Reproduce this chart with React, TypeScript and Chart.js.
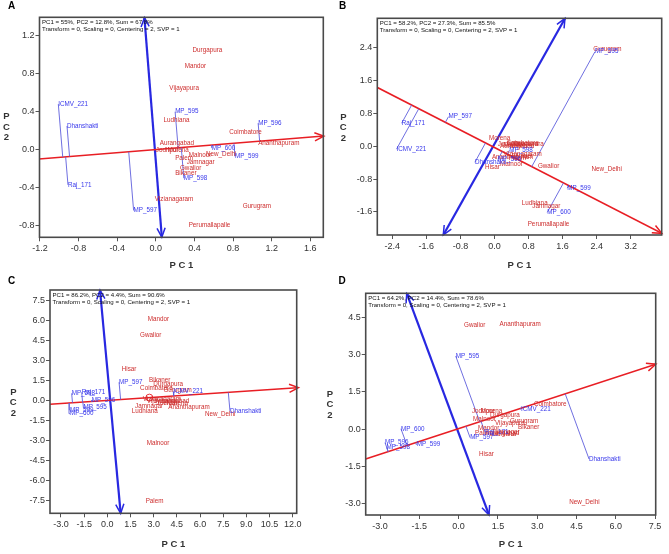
import React, { useEffect, useRef } from 'react';
import { Chart, registerables } from 'chart.js';

Chart.register(...registerables);

const FONT = '"Liberation Sans", Arial, Helvetica, sans-serif';
const INFO2 = 'Transform = 0, Scaling = 0, Centering = 2, SVP = 1';

// ---------------- Panel A ----------------
const aInfo = 'PC1 = 55%, PC2 = 12.8%, Sum = 67.8%';
const aTicksPC1 = [-1.2, -0.8, -0.4, 0, 0.4, 0.8, 1.2, 1.6];
const aTicksPC2 = [-0.8, -0.4, 0, 0.4, 0.8, 1.2];
const aGenotypes = ['ICMV_221', 'Dhanshakti', 'Raj_171', 'MP_597', 'MP_595', 'MP_596', 'MP_600', 'MP_599', 'MP_598'];
const aGenoPC1 = [-1.01, -0.92, -0.91, -0.23, 0.2, 1.06, 0.58, 0.82, 0.29];
const aGenoPC2 = [0.48, 0.25, -0.37, -0.64, 0.4, 0.28, 0.02, -0.07, -0.3];
const aEnvironments = ['Durgapura', 'Mandor', 'Vijayapura', 'Ludhiana', 'Coimbatore', 'Ananthapuram', 'Aurangabad', 'Jodhpur', 'Morena', 'Palem', 'Malnoor', 'New_Delhi', 'Jamnagar', 'Gwalior', 'Bikaner', 'Vizianagaram', 'Gurugram', 'Perumallapalle'];
const aEnvPC1 = [0.38, 0.3, 0.14, 0.08, 0.76, 1.06, 0.04, 0.0, 0.12, 0.2, 0.34, 0.52, 0.32, 0.25, 0.2, -0.01, 0.9, 0.34];
const aEnvPC2 = [1.05, 0.88, 0.65, 0.31, 0.18, 0.07, 0.07, -0.01, -0.01, -0.09, -0.06, -0.05, -0.13, -0.19, -0.25, -0.52, -0.6, -0.79];
const aRedPC1 = [-1.21, 1.74];
const aRedPC2 = [-0.098, 0.144];
const aBluePC1 = [-0.118, 0.062];
const aBluePC2 = [1.39, -0.92];

// ---------------- Panel B ----------------
const bInfo = 'PC1 = 58.2%, PC2 = 27.3%, Sum = 85.5%';
const bTicksPC1 = [-2.4, -1.6, -0.8, 0, 0.8, 1.6, 2.4, 3.2];
const bTicksPC2 = [-1.6, -0.8, 0, 0.8, 1.6, 2.4];
const bGenotypes = ['MP_595', 'MP_597', 'Raj_171', 'ICMV_221', 'MP_598', 'Dhanshakti', 'MP_596', 'MP_599', 'MP_600'];
const bGenoPC1 = [2.36, -1.08, -2.18, -2.3, 0.35, -0.46, 0.08, 1.71, 1.24];
const bGenoPC2 = [2.3, 0.72, 0.56, -0.07, -0.1, -0.39, -0.32, -1.02, -1.61];
const bEnvironments = ['Gurugram', 'Morena', 'Jodhpur', 'Durgapura', 'Mandor', 'Vijayapura', 'Aurangabad', 'Coimbatore', 'Ananthapuram', 'Bikaner', 'Vizianagaram', 'Palem', 'Hisar', 'Malnoor', 'Gwalior', 'New_Delhi', 'Ludhiana', 'Jamnagar', 'Perumallapalle'];
const bEnvPC1 = [2.32, -0.13, 0.08, 0.46, 0.21, 0.33, 0.13, 0.28, -0.06, 0.4, 0.21, 0.33, -0.22, 0.13, 1.02, 2.28, 0.64, 0.89, 0.78];
const bEnvPC2 = [2.37, 0.19, 0.055, 0.055, 0.02, 0.05, -0.01, 0.08, -0.26, -0.24, -0.19, -0.29, -0.5, -0.43, -0.48, -0.56, -1.39, -1.45, -1.89];
const bRedPC1 = [-2.76, 3.93];
const bRedPC2 = [1.434, -2.119];
const bBluePC1 = [1.656, -1.202];
const bBluePC2 = [3.11, -2.16];

// ---------------- Panel C ----------------
const cInfo = 'PC1 = 86.2%, PC2 = 4.4%, Sum = 90.6%';
const cTicksPC1 = [-3, -1.5, 0, 1.5, 3, 4.5, 6, 7.5, 9, 10.5, 12];
const cTicksPC2 = [-7.5, -6, -4.5, -3, -1.5, 0, 1.5, 3, 4.5, 6, 7.5];
const cGenotypes = ['MP_597', 'MP_598', 'Raj_171', 'MP_596', 'MP_595', 'MP_599', 'MP_600', 'ICMV_221', 'Dhanshakti'];
const cGenoPC1 = [0.76, -2.31, -1.66, -1.01, -1.55, -2.42, -2.42, 4.27, 7.94];
const cGenoPC2 = [1.35, 0.52, 0.6, 0.0, -0.55, -0.72, -1.0, 0.65, -0.8];
const cEnvironments = ['Mandor', 'Gwalior', 'Hisar', 'Bikaner', 'Durgapura', 'Coimbatore', 'Gurugram', 'Vizianagaram', 'Vijayapura', 'Aurangabad', 'Jodhpur', 'Morena', 'Jamnagar', 'Ananthapuram', 'Ludhiana', 'New_Delhi', 'Malnoor', 'Palem'];
const cEnvPC1 = [2.61, 2.12, 0.93, 2.7, 2.98, 2.12, 3.63, 2.29, 2.55, 3.09, 3.19, 3.84, 1.79, 3.95, 1.58, 6.32, 2.55, 2.48];
const cEnvPC2 = [6.08, 4.86, 2.32, 1.52, 1.22, 0.9, 0.77, 0.07, -0.1, -0.1, -0.22, -0.22, -0.47, -0.55, -0.8, -1.05, -3.22, -7.58];
const cRedPC1 = [-3.72, 12.37];
const cRedPC2 = [-0.3, 0.946];
const cBluePC1 = [-0.475, 0.863];
const cBluePC2 = [8.25, -8.45];
const cAecPC1 = [2.72];
const cAecPC2 = [0.2];

// ---------------- Panel D ----------------
const dInfo = 'PC1 = 64.2%, PC2 = 14.4%, Sum = 78.6%';
const dTicksPC1 = [-3, -1.5, 0, 1.5, 3, 4.5, 6, 7.5];
const dTicksPC2 = [-3, -1.5, 0, 1.5, 3, 4.5];
const dGenotypes = ['MP_595', 'ICMV_221', 'Dhanshakti', 'MP_600', 'MP_596', 'MP_598', 'MP_599', 'MP_597', 'Raj_171'];
const dGenoPC1 = [-0.11, 2.38, 4.98, -2.2, -2.81, -2.75, -1.6, 0.44, 1.01];
const dGenoPC2 = [2.95, 0.8, -1.21, 0.01, -0.55, -0.74, -0.62, -0.35, -0.13];
const dEnvironments = ['Gwalior', 'Ananthapuram', 'Coimbatore', 'Jodhpur', 'Morena', 'Durgapura', 'Malnoor', 'Vijayapura', 'Gurugram', 'Mandor', 'Bikaner', 'Palem', 'Aurangabad', 'Ludhiana', 'Jamnagar', 'Hisar', 'New_Delhi'];
const dEnvPC1 = [0.21, 1.56, 2.88, 0.51, 0.85, 1.2, 0.55, 1.39, 1.96, 0.74, 2.27, 0.63, 1.01, 1.2, 1.26, 0.78, 4.22];
const dEnvPC2 = [4.18, 4.22, 1.0, 0.73, 0.73, 0.57, 0.41, 0.25, 0.33, 0.04, 0.08, -0.16, -0.16, -0.2, -0.11, -1.01, -2.97];
const dRedPC1 = [-3.55, 7.53];
const dRedPC2 = [-1.21, 2.62];
const dBluePC1 = [-1.98, 1.16];
const dBluePC2 = [5.48, -3.47];

const RED = 'rgb(232,30,36)';
const ENV_RED = 'rgb(205,45,45)';
const BLUE = 'rgb(40,40,225)';
const GENO_BLUE = 'rgb(55,55,235)';
const PROJ = 'rgb(95,95,220)';

type Cfg = {
  letter: string;
  left: number; top: number; width: number; height: number;
  area: { left: number; top: number; right: number; bottom: number };
  xRange: [number, number]; yRange: [number, number];
  xTicks: number[]; yTicks: number[];
  genotypes: string[]; genoX: number[]; genoY: number[];
  envs: string[]; envX: number[]; envY: number[];
  redX: number[]; redY: number[]; blueX: number[]; blueY: number[];
  info: string;
  letterPos: [number, number];
  yTitlePos: [number, number];
  aecX?: number[]; aecY?: number[];
};

const panels: Cfg[] = [
  {
    letter: 'A', left: 0, top: 0, width: 335, height: 275,
    area: { left: 39.5, top: 17.3, right: 323.3, bottom: 237.3 },
    xRange: [-1.205, 1.735], yRange: [-0.922, 1.394],
    xTicks: aTicksPC1, yTicks: aTicksPC2,
    genotypes: aGenotypes, genoX: aGenoPC1, genoY: aGenoPC2,
    envs: aEnvironments, envX: aEnvPC1, envY: aEnvPC2,
    redX: aRedPC1, redY: aRedPC2, blueX: aBluePC1, blueY: aBluePC2,
    info: aInfo, letterPos: [11.7, 6.7], yTitlePos: [6.5, 116.7],
  },
  {
    letter: 'B', left: 335, top: 0, width: 334, height: 275,
    area: { left: 42.3, top: 18.3, right: 326.7, bottom: 235 },
    xRange: [-2.752, 3.928], yRange: [-2.16, 3.114],
    xTicks: bTicksPC1, yTicks: bTicksPC2,
    genotypes: bGenotypes, genoX: bGenoPC1, genoY: bGenoPC2,
    envs: bEnvironments, envX: bEnvPC1, envY: bEnvPC2,
    redX: bRedPC1, redY: bRedPC2, blueX: bBluePC1, blueY: bBluePC2,
    info: bInfo, letterPos: [7.5, 6], yTitlePos: [8.3, 117],
  },
  {
    letter: 'C', left: 0, top: 275, width: 320, height: 279,
    area: { left: 50, top: 15, right: 296.7, bottom: 238.3 },
    xRange: [-3.712, 12.26], yRange: [-8.45, 8.25],
    xTicks: cTicksPC1, yTicks: cTicksPC2,
    genotypes: cGenotypes, genoX: cGenoPC1, genoY: cGenoPC2,
    envs: cEnvironments, envX: cEnvPC1, envY: cEnvPC2,
    redX: cRedPC1, redY: cRedPC2, blueX: cBluePC1, blueY: cBluePC2,
    info: cInfo, letterPos: [11.7, 6.7], yTitlePos: [13.3, 117.3],
    aecX: cAecPC1, aecY: cAecPC2,
  },
  {
    letter: 'D', left: 320, top: 275, width: 349, height: 279,
    area: { left: 45.7, top: 18.3, right: 335.7, bottom: 240 },
    xRange: [-3.547, 7.525], yRange: [-3.471, 5.483],
    xTicks: dTicksPC1, yTicks: dTicksPC2,
    genotypes: dGenotypes, genoX: dGenoPC1, genoY: dGenoPC2,
    envs: dEnvironments, envX: dEnvPC1, envY: dEnvPC2,
    redX: dRedPC1, redY: dRedPC2, blueX: dBluePC1, blueY: dBluePC2,
    info: dInfo, letterPos: [22, 6.7], yTitlePos: [10, 119],
  },
];

const toPts = (xs: number[], ys: number[]) => xs.map((x, i) => ({ x, y: ys[i] }));

function footOnRed(g: { x: number; y: number }, sx: number, sy: number, ex: number, ey: number) {
  const dx = ex - sx;
  const dy = ey - sy;
  const t = ((g.x - sx) * dx + (g.y - sy) * dy) / (dx * dx + dy * dy);
  return { x: sx + t * dx, y: sy + t * dy };
}

function arrowHead(ctx: CanvasRenderingContext2D, tx: number, ty: number, fx: number, fy: number, color: string, len: number, lw: number) {
  const ang = Math.atan2(ty - fy, tx - fx);
  const spread = 0.42;
  ctx.save();
  ctx.strokeStyle = color;
  ctx.lineWidth = lw;
  ctx.beginPath();
  ctx.moveTo(tx - len * Math.cos(ang - spread), ty - len * Math.sin(ang - spread));
  ctx.lineTo(tx, ty);
  ctx.lineTo(tx - len * Math.cos(ang + spread), ty - len * Math.sin(ang + spread));
  ctx.stroke();
  ctx.restore();
}

function Panel({ cfg }: { cfg: Cfg }) {
  const ref = useRef<HTMLCanvasElement | null>(null);

  useEffect(() => {
    if (!ref.current) return;
    const genoPts = toPts(cfg.genoX, cfg.genoY);
    const envPts = toPts(cfg.envX, cfg.envY);
    const red = toPts(cfg.redX, cfg.redY);
    const blue = toPts(cfg.blueX, cfg.blueY);

    const projections = genoPts.map((g) => ({
      data: [g, footOnRed(g, red[0].x, red[0].y, red[1].x, red[1].y)],
      showLine: true,
      borderColor: PROJ,
      borderWidth: 0.9,
      pointRadius: 0,
    }));

    const datasets: any[] = [
      ...projections,
      {
        data: envPts, pointRadius: 0, showLine: false,
        pointLabels: cfg.envs, labelColor: ENV_RED,
      },
      {
        data: genoPts, pointRadius: 0, showLine: false,
        pointLabels: cfg.genotypes, labelColor: GENO_BLUE,
      },
      {
        data: red, showLine: true, borderColor: RED, borderWidth: 1.6, pointRadius: 0,
        arrow: 'end', arrowColor: RED,
      },
      {
        data: blue, showLine: true, borderColor: BLUE, borderWidth: 2.2, pointRadius: 0,
        arrow: 'both', arrowColor: BLUE,
      },
    ];
    if (cfg.aecX && cfg.aecY) {
      datasets.push({
        data: toPts(cfg.aecX, cfg.aecY), showLine: false, pointRadius: 3.5,
        pointBorderColor: RED, pointBackgroundColor: 'rgba(0,0,0,0)', pointBorderWidth: 0.9,
      });
    }

    const decor = {
      id: 'biplotDecor',
      afterDatasetsDraw(chart: any) {
        const ctx: CanvasRenderingContext2D = chart.ctx;
        chart.data.datasets.forEach((ds: any, i: number) => {
          const meta = chart.getDatasetMeta(i);
          if (ds.pointLabels) {
            ctx.save();
            ctx.font = `6.3px ${FONT}`;
            ctx.fillStyle = ds.labelColor;
            ctx.textAlign = 'left';
            ctx.textBaseline = 'middle';
            meta.data.forEach((el: any, j: number) => {
              ctx.fillText(ds.pointLabels[j], el.x, el.y);
            });
            ctx.restore();
          }
          if (ds.arrow) {
            const p0 = meta.data[0];
            const p1 = meta.data[1];
            arrowHead(ctx, p1.x, p1.y, p0.x, p0.y, ds.arrowColor, 10, 1.5);
            if (ds.arrow === 'both') arrowHead(ctx, p0.x, p0.y, p1.x, p1.y, ds.arrowColor, 10, 1.5);
          }
        });
      },
      afterDraw(chart: any) {
        const ctx: CanvasRenderingContext2D = chart.ctx;
        const a = chart.chartArea;
        ctx.save();
        ctx.strokeStyle = '#4a4a4a';
        ctx.lineWidth = 1.6;
        ctx.strokeRect(a.left, a.top, a.right - a.left, a.bottom - a.top);
        ctx.fillStyle = '#111';
        ctx.font = `6.1px ${FONT}`;
        ctx.textAlign = 'left';
        ctx.textBaseline = 'middle';
        ctx.fillText(cfg.info, a.left + 2.5, a.top + 5);
        ctx.fillText(INFO2, a.left + 2.5, a.top + 12.5);
        ctx.fillStyle = '#000';
        ctx.font = `bold 10px ${FONT}`;
        ctx.textAlign = 'center';
        ctx.fillText(cfg.letter, cfg.letterPos[0], cfg.letterPos[1]);
        ctx.fillStyle = '#333';
        ctx.font = `bold 9.5px ${FONT}`;
        ['P', 'C', '2'].forEach((ch, k) => {
          ctx.fillText(ch, cfg.yTitlePos[0], cfg.yTitlePos[1] + k * 10.5);
        });
        ctx.restore();
      },
    };

    const tickFmt = (v: any) => Number(v).toFixed(1);

    const chart = new Chart(ref.current, {
      type: 'scatter',
      data: { datasets },
      options: {
        animation: false,
        responsive: false,
        devicePixelRatio: 1,
        events: [],
        layout: {
          padding: { left: 0, top: cfg.area.top, right: cfg.width - cfg.area.right, bottom: 0 },
        },
        plugins: { legend: { display: false }, tooltip: { enabled: false }, title: { display: false } },
        scales: {
          x: {
            type: 'linear',
            min: cfg.xRange[0],
            max: cfg.xRange[1],
            afterBuildTicks: (s: any) => { s.ticks = cfg.xTicks.map((v) => ({ value: v })); },
            afterFit: (s: any) => { s.height = cfg.height - cfg.area.bottom; },
            ticks: {
              autoSkip: false, maxRotation: 0, minRotation: 0, padding: 2,
              font: { family: FONT, size: 9 }, color: '#333', callback: tickFmt,
            },
            grid: { display: true, drawOnChartArea: false, drawTicks: true, tickLength: 4, color: '#555', lineWidth: 1 },
            border: { display: false },
            title: {
              display: true, text: 'P C 1', color: '#333',
              font: { family: FONT, size: 9.5, weight: 'bold' }, padding: { top: 2, bottom: 4 },
            },
          },
          y: {
            type: 'linear',
            min: cfg.yRange[0],
            max: cfg.yRange[1],
            afterBuildTicks: (s: any) => { s.ticks = cfg.yTicks.map((v) => ({ value: v })); },
            afterFit: (s: any) => { s.width = cfg.area.left; },
            ticks: {
              autoSkip: false, padding: 1,
              font: { family: FONT, size: 9 }, color: '#333', callback: tickFmt,
            },
            grid: { display: true, drawOnChartArea: false, drawTicks: true, tickLength: 4, color: '#555', lineWidth: 1 },
            border: { display: false },
            title: { display: false },
          },
        },
      } as any,
      plugins: [decor as any],
    });
    return () => chart.destroy();
  }, [cfg]);

  return (
    <canvas
      ref={ref}
      width={cfg.width}
      height={cfg.height}
      style={{ position: 'absolute', left: cfg.left, top: cfg.top, width: cfg.width, height: cfg.height }}
    />
  );
}

export default function App() {
  return (
    <div style={{ position: 'absolute', left: 0, top: 0, width: 669, height: 554, background: '#fff', overflow: 'hidden' }}>
      {panels.map((p) => (
        <Panel key={p.letter} cfg={p} />
      ))}
    </div>
  );
}
